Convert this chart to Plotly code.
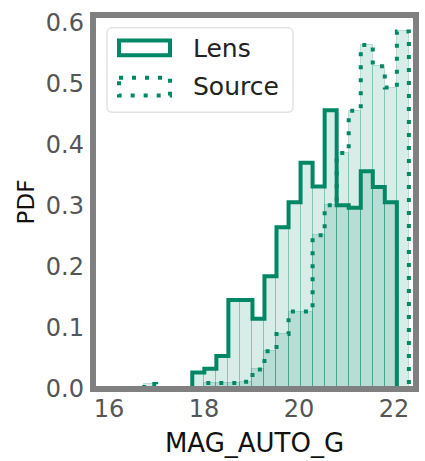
import numpy as np
import plotly.graph_objects as go

# ---------------- data ----------------
bin_edges = [16.740, 16.993, 17.247, 17.500, 17.753, 18.007, 18.260, 18.513,
             18.766, 19.020, 19.273, 19.526, 19.780, 20.033, 20.286, 20.540,
             20.793, 21.046, 21.300, 21.553, 21.806, 22.060, 22.313]
lens_pdf = [0.0, 0.0, 0.0, 0.0, 0.027, 0.033, 0.054, 0.146, 0.146, 0.115,
            0.185, 0.265, 0.306, 0.371, 0.332, 0.457, 0.301, 0.297, 0.357,
            0.331, 0.306, 0.0]
source_pdf = [0.008, 0.0, 0.0, 0.0, 0.0, 0.010, 0.010, 0.010, 0.012, 0.032,
              0.062, 0.090, 0.127, 0.127, 0.252, 0.301, 0.387, 0.456, 0.564,
              0.529, 0.494, 0.586]
series_names = ["Lens", "Source"]
x_ticks = [16, 18, 20, 22]
y_ticks = [0.0, 0.1, 0.2, 0.3, 0.4, 0.5, 0.6]

# ---------------- style ----------------
GREEN = "rgb(0,135,102)"
FILL = "rgba(0,135,102,0.15)"
EDGE = "rgba(0,135,102,0.22)"
FRAME = "#808080"
FONT = "DejaVu Sans"

W, H = 425, 461
ML, MR, MT, MB = 93, 9, 12, 68
PW, PH = W - ML - MR, H - MT - MB

edges = np.array(bin_edges)
centers = (edges[:-1] + edges[1:]) / 2
widths = np.diff(edges)

fig = go.Figure()

for vals in (lens_pdf, source_pdf):
    fig.add_trace(go.Bar(x=centers, y=vals, width=widths,
                         marker=dict(color=FILL, line=dict(color=EDGE, width=1)),
                         showlegend=False, hoverinfo="skip"))


def step_xy(vals):
    v = np.array(vals)
    nz = np.nonzero(v)[0]
    i0, i1 = nz[0], nz[-1]
    xs = [edges[i0]] + list(edges[i0:i1 + 2])
    ys = [0.0] + list(v[i0:i1 + 1]) + [0.0]
    return xs, ys


lx, ly = step_xy(lens_pdf)
fig.add_trace(go.Scatter(x=lx, y=ly, mode="lines", line_shape="hv",
                         line=dict(color=GREEN, width=4),
                         name=series_names[0], showlegend=False))
sx, sy = step_xy(source_pdf)
fig.add_trace(go.Scatter(x=sx, y=sy, mode="lines", line_shape="hv",
                         line=dict(color=GREEN, width=4, dash="4px,9px"),
                         name=series_names[1], showlegend=False))


# ---------------- custom legend (pixel -> paper) ----------------
def px(x):
    return (x - ML) / PW


def py(y):
    return (H - MB - y) / PH


shapes = []
# legend box with rounded corners
bx0, bx1, by0, by1, r = 107, 293, 25, 111, 5
path = (f"M {px(bx0 + r)},{py(by0)} L {px(bx1 - r)},{py(by0)} "
        f"Q {px(bx1)},{py(by0)} {px(bx1)},{py(by0 + r)} "
        f"L {px(bx1)},{py(by1 - r)} Q {px(bx1)},{py(by1)} {px(bx1 - r)},{py(by1)} "
        f"L {px(bx0 + r)},{py(by1)} Q {px(bx0)},{py(by1)} {px(bx0)},{py(by1 - r)} "
        f"L {px(bx0)},{py(by0 + r)} Q {px(bx0)},{py(by0)} {px(bx0 + r)},{py(by0)} Z")
shapes.append(dict(type="path", xref="paper", yref="paper", path=path,
                   line=dict(color="#d4d4d4", width=1),
                   fillcolor="rgba(255,255,255,0.85)", layer="above"))
shapes.append(dict(type="rect", xref="paper", yref="paper",
                   x0=px(119), x1=px(170), y0=py(38), y1=py(53),
                   line=dict(color=GREEN, width=4), fillcolor="rgba(0,0,0,0)",
                   layer="above"))
shapes.append(dict(type="rect", xref="paper", yref="paper",
                   x0=px(119), x1=px(170), y0=py(76), y1=py(94),
                   line=dict(color=GREEN, width=4, dash="4px,9px"),
                   fillcolor="rgba(0,0,0,0)", layer="above"))
# frame
shapes.append(dict(type="rect", xref="paper", yref="paper", x0=0, x1=1, y0=0, y1=1,
                   line=dict(color=FRAME, width=6), layer="above"))

annotations = [
    dict(xref="paper", yref="paper", x=px(191), y=py(46), text=series_names[0],
         xanchor="left", yanchor="middle", showarrow=False,
         font=dict(family=FONT, size=25, color="#222222")),
    dict(xref="paper", yref="paper", x=px(191), y=py(85), text=series_names[1],
         xanchor="left", yanchor="middle", showarrow=False,
         font=dict(family=FONT, size=25, color="#222222")),
]

fig.update_layout(
    width=W, height=H,
    margin=dict(l=ML, r=MR, t=MT, b=MB, pad=0),
    paper_bgcolor="white", plot_bgcolor="white",
    barmode="overlay", bargap=0,
    shapes=shapes, annotations=annotations,
    font=dict(family=FONT),
    xaxis=dict(range=[15.663, 22.463], tickvals=x_ticks,
               ticktext=[str(t) for t in x_ticks],
               showgrid=False, zeroline=False, showline=False, ticks="",
               ticklabelstandoff=3,
               tickfont=dict(family=FONT, size=24, color="#555555"),
               title=dict(text="MAG_AUTO_G", standoff=11,
                          font=dict(family=FONT, size=26, color="#111111"))),
    yaxis=dict(range=[0, 0.613], tickvals=y_ticks,
               ticktext=[f"{t:.1f}" for t in y_ticks],
               showgrid=False, zeroline=False, showline=False, ticks="",
               ticklabelstandoff=8,
               tickfont=dict(family=FONT, size=24, color="#555555"),
               title=dict(text="PDF", standoff=4,
                          font=dict(family=FONT, size=23, color="#111111"))),
)

fig.write_html("out.html")
